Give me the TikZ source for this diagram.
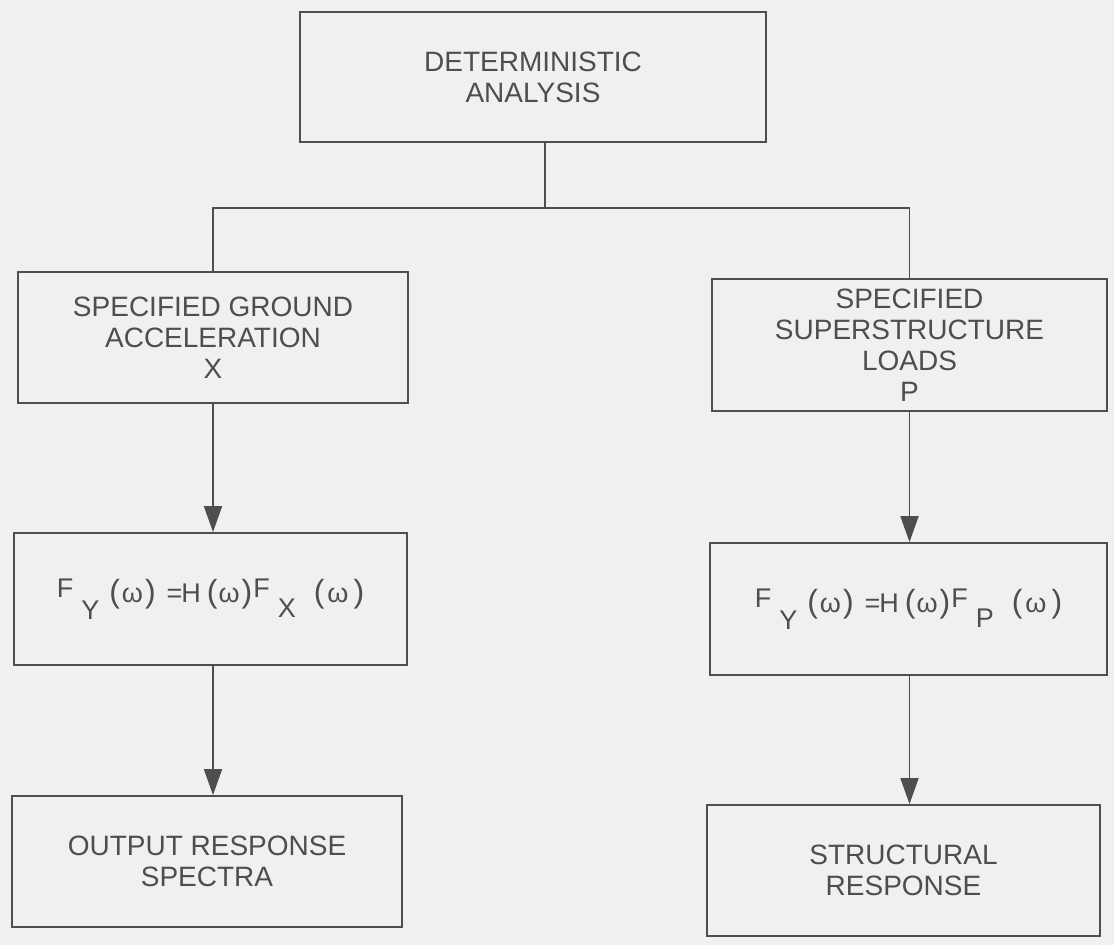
\documentclass[tikz,border=0pt]{standalone}
\usepackage{fontspec}
\setmainfont{Liberation Sans}
\usetikzlibrary{arrows.meta}

\definecolor{paper}{RGB}{240,240,238}
\definecolor{ink}{RGB}{78,78,78}

% transfer relation F_Y(w) = H(w) F_s(w): raised F's, lowered subscripts,
% tall parentheses around a small omega
\newcommand{\pfont}{\fontsize{32}{32}\selectfont}
\newcommand{\omg}[2]{{\pfont(}\kern#1 ω\kern#2{\pfont)}}
\newcommand{\xferrel}[1]{%
  \raisebox{5pt}{F}\kern8pt\raisebox{-17pt}{Y}\kern10pt\omg{2pt}{2pt}%
  \kern11pt=\kern-1pt H\kern6pt\omg{1pt}{2pt}%
  \kern1pt\raisebox{5pt}{F}\kern8pt\raisebox{-15pt}{#1}\kern18pt\omg{3pt}{5pt}}

\tikzset{
  box/.style={draw=ink, line width=1.8pt, rectangle, align=center, text=ink,
    font=\fontsize{28}{31}\selectfont, inner sep=0pt},
  eqbox/.style={box, font=\fontsize{27}{30}\selectfont},
  link/.style={draw=ink, line width=1.8pt},
  flow/.style={link, -{Triangle[length=26pt,width=18pt]}}
}

\begin{document}
\begin{tikzpicture}[x=1pt,y=-1pt]
  \fill[paper] (0,0) rectangle (1114,945);
  \useasboundingbox (0,0) rectangle (1114,945);

  % top of the hierarchy
  \node[box, minimum width=466pt, minimum height=130pt] (det) at (533,77)
    {DETERMINISTIC\\ANALYSIS};

  % left branch
  \node[box, minimum width=390pt, minimum height=131pt] (sga) at (213,337.5)
    {SPECIFIED GROUND\\ACCELERATION\\X};
  \node[eqbox, minimum width=393pt, minimum height=132pt] (fx) at (210.5,599)
    {\xferrel{X}};
  \node[box, minimum width=390pt, minimum height=131pt] (ors) at (207,861.5)
    {OUTPUT RESPONSE\\SPECTRA};

  % right branch
  \node[box, minimum width=395pt, minimum height=132pt] (ssl) at (909.5,345)
    {SPECIFIED\\SUPERSTRUCTURE\\LOADS\\P};
  \node[eqbox, minimum width=397pt, minimum height=132pt] (fp) at (908.5,609)
    {\xferrel{P}};
  \node[box, minimum width=393pt, minimum height=131pt] (srs) at (903.5,870.5)
    {STRUCTURAL\\RESPONSE};

  % branching connector
  \coordinate (fork) at (545,208);
  \draw[link] (det.south -| fork) -- (fork);
  \draw[link] (sga.north) |- (fork) -| (ssl.north);

  % flow arrows
  \draw[flow] (sga.south) -- (sga.south |- fx.north);
  \draw[flow] (fx.south -| sga.south) -- (sga.south |- ors.north);
  \draw[flow] (ssl.south) -- (ssl.south |- fp.north);
  \draw[flow] (fp.south -| ssl.south) -- (ssl.south |- srs.north);
\end{tikzpicture}
\end{document}
